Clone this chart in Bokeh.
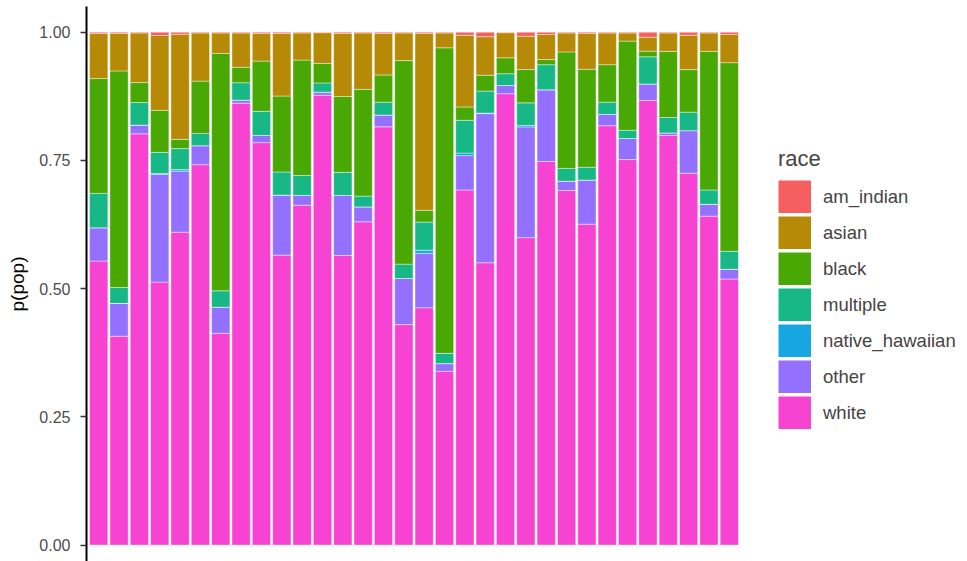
import numpy as np
from bokeh.plotting import figure
from bokeh.models import Range1d, FixedTicker, NumeralTickFormatter, Legend, LegendItem, ColumnDataSource
from bokeh.embed import file_html
from bokeh.resources import INLINE

# 32 groups (no x labels in the original)
group = list(range(1, 33))

white = [0.554, 0.407, 0.803, 0.513, 0.610, 0.742, 0.413, 0.861, 0.785, 0.565, 0.663, 0.877, 0.565, 0.630, 0.815, 0.430,
         0.463, 0.339, 0.693, 0.551, 0.880, 0.600, 0.749, 0.691, 0.626, 0.818, 0.752, 0.866, 0.799, 0.725, 0.641, 0.519]
other = [0.065, 0.064, 0.017, 0.210, 0.119, 0.037, 0.051, 0.006, 0.014, 0.117, 0.019, 0.006, 0.117, 0.029, 0.023, 0.090,
         0.106, 0.015, 0.067, 0.291, 0.016, 0.216, 0.140, 0.018, 0.086, 0.022, 0.041, 0.032, 0.005, 0.083, 0.023, 0.019]
native_hawaiian = [0.0, 0.0, 0.0, 0.002, 0.003, 0.0, 0.0, 0.0, 0.0, 0.0, 0.0, 0.0, 0.0, 0.0, 0.0, 0.0,
                   0.006, 0.0, 0.005, 0.001, 0.0, 0.003, 0.0, 0.0, 0.0, 0.0, 0.0, 0.0, 0.0, 0.0, 0.0, 0.0]
multiple = [0.067, 0.031, 0.044, 0.041, 0.041, 0.024, 0.032, 0.034, 0.047, 0.045, 0.039, 0.018, 0.045, 0.021, 0.025, 0.028,
            0.055, 0.020, 0.064, 0.043, 0.023, 0.044, 0.049, 0.025, 0.025, 0.024, 0.016, 0.053, 0.030, 0.036, 0.028, 0.035]
black = [0.224, 0.422, 0.039, 0.082, 0.018, 0.102, 0.463, 0.030, 0.098, 0.148, 0.225, 0.038, 0.148, 0.208, 0.053, 0.397,
         0.023, 0.596, 0.026, 0.031, 0.031, 0.065, 0.010, 0.227, 0.191, 0.073, 0.174, 0.011, 0.129, 0.083, 0.270, 0.368]
asian = [0.088, 0.073, 0.097, 0.146, 0.205, 0.094, 0.040, 0.067, 0.054, 0.122, 0.053, 0.060, 0.123, 0.110, 0.081, 0.054,
         0.345, 0.029, 0.140, 0.075, 0.049, 0.065, 0.049, 0.037, 0.070, 0.062, 0.016, 0.027, 0.036, 0.067, 0.036, 0.055]
am_indian = [0.0025, 0.0025, 0.0015, 0.0065, 0.004, 0.0015, 0.0015, 0.0015, 0.0025, 0.0025, 0.0015, 0.001, 0.0025, 0.0015, 0.0025, 0.0015,
             0.0025, 0.0015, 0.006, 0.009, 0.001, 0.008, 0.0045, 0.0015, 0.0025, 0.0015, 0.0015, 0.010, 0.0015, 0.006, 0.0015, 0.0045]

race_levels = ["am_indian", "asian", "black", "multiple", "native_hawaiian", "other", "white"]
race_colors = ["#F55F5F", "#B68A06", "#49A803", "#18B786", "#16A7E3", "#9370FE", "#F743D2"]
y_ticks = [0.0, 0.25, 0.5, 0.75, 1.0]

raw = {"am_indian": am_indian, "asian": asian, "black": black, "multiple": multiple,
       "native_hawaiian": native_hawaiian, "other": other, "white": white}

# position = "fill": normalise every bar to 1
totals = [sum(raw[r][i] for r in race_levels) for i in range(len(group))]
data = {"x": group}
for r in race_levels:
    data[r] = [raw[r][i] / totals[i] for i in range(len(group))]
src = ColumnDataSource(data)

p = figure(frame_width=655, frame_height=555, min_border_left=86, min_border_right=226,
           min_border_top=6, min_border_bottom=0, output_backend="svg", toolbar_location=None,
           x_range=Range1d(0.4, 32.6), y_range=Range1d(-0.032, 1.05), x_axis_location=None)

stack_order = list(reversed(race_levels))  # white at bottom, am_indian on top
color_map = dict(zip(race_levels, race_colors))
rends = p.vbar_stack(stack_order, x="x", width=0.9, source=src,
                     fill_color=[color_map[r] for r in stack_order],
                     line_color="white", line_width=0.6, line_alpha=0.7)
rend_by = dict(zip(stack_order, rends))

# legend keys: full-size colour squares (key renderers hold no drawable point)
key_rends = {}
for r in race_levels:
    key_rends[r] = p.line(x=[np.nan], y=[np.nan], line_color=color_map[r], line_width=33, line_cap="butt")

p.grid.visible = False
p.outline_line_color = None
p.background_fill_color = "white"
p.border_fill_color = "white"

ax = p.yaxis[0]
ax.ticker = FixedTicker(ticks=y_ticks)
ax.formatter = NumeralTickFormatter(format="0.00")
ax.axis_label = "p(pop)"
ax.axis_label_text_font = "Liberation Sans"
ax.axis_label_text_font_style = "normal"
ax.axis_label_text_font_size = "19px"
ax.axis_label_text_color = "black"
ax.axis_label_standoff = 8
ax.major_label_text_font = "Liberation Sans"
ax.major_label_text_font_size = "16px"
ax.major_label_text_color = "#4D4D4D"
ax.major_label_standoff = 10
ax.major_tick_out = 6
ax.major_tick_in = 0
ax.major_tick_line_color = "#333333"
ax.major_tick_line_width = 1.5
ax.minor_tick_line_color = None
ax.axis_line_color = "black"
ax.axis_line_width = 2

items = [LegendItem(label=r, renderers=[rend_by[r], key_rends[r]]) for r in race_levels]
legend = Legend(items=items, title="race", location=(37, 132), orientation="vertical",
                glyph_width=33, glyph_height=33, label_height=33, spacing=3, label_standoff=12,
                padding=0, margin=0, border_line_color=None, background_fill_alpha=0,
                label_text_font="Liberation Sans", label_text_font_size="18.5px",
                title_text_font="Liberation Sans", title_text_font_size="22px",
                title_text_font_style="normal", title_standoff=8)
p.add_layout(legend, "right")

open("out.html", "w").write(file_html(p, INLINE))
